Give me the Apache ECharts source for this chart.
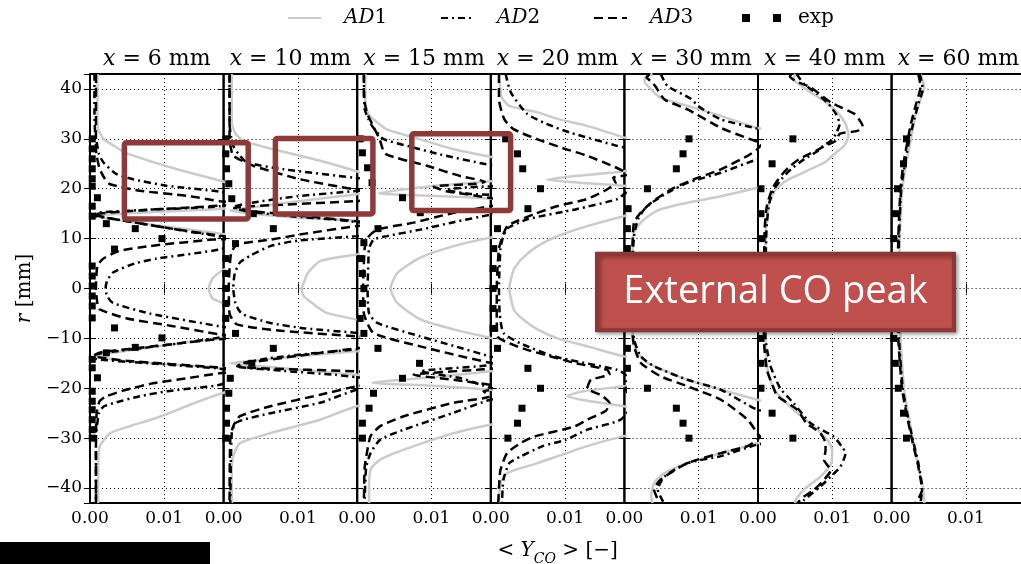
<!DOCTYPE html>
<html>
<head>
<meta charset="utf-8">
<script src="https://cdn.jsdelivr.net/npm/echarts/dist/echarts.min.js"></script>
<style>html,body{margin:0;padding:0;background:#fff;}#chart{width:1021px;height:564px;}</style>
</head>
<body>
<div id="chart"></div>
<script>
// Panel labels (x position in mm)
const panelTitles = ['6', '10', '15', '20', '30', '40', '60'];
const xTickLabels = ['0.00', '0.01'];
const yTicks = [-40, -30, -20, -10, 0, 10, 20, 30, 40];

// Each series: [ <Y_CO>, r (mm) ]
const p1_ad1 = [[0.0010,43],[0.0010,35],[0.0011,32],[0.0018,30],[0.0028,29],[0.0048,27.2],[0.0115,24],[0.0178,21.5],[0.0210,20],[0.0210,17],[0.0178,16],[0.0080,15.3],[0.0006,14.5],[0.0050,13.5],[0.0100,12.5],[0.0175,11],[0.0210,10],[0.0210,5],[0.0180,3.8],[0.0165,2],[0.0160,0],[0.0165,-2],[0.0180,-3],[0.0210,-5],[0.0210,-9.5],[0.0180,-10],[0.0120,-11],[0.0040,-12.7],[0.0008,-13.5],[0.0050,-14.6],[0.0120,-15.3],[0.0180,-16.1],[0.0210,-17],[0.0210,-20],[0.0180,-20.9],[0.0140,-23],[0.0094,-25.7],[0.0045,-28],[0.0027,-29],[0.0013,-31.7],[0.0011,-36],[0.0011,-43]];
const p1_ad2 = [[0.0006,43],[0.0006,35],[0.0007,31],[0.0009,29.3],[0.0012,27],[0.0018,25.3],[0.0035,23],[0.0058,21.9],[0.0103,20.6],[0.0175,19.4],[0.0210,18],[0.0175,16.5],[0.0080,15.8],[0.0010,15.2],[0.0005,14.6],[0.0030,14],[0.0090,12.5],[0.0150,11],[0.0180,10.3],[0.0210,9.5],[0.0174,7.8],[0.0090,6],[0.0060,5],[0.0031,3.2],[0.0023,1.5],[0.0021,0],[0.0023,-1.5],[0.0031,-2.9],[0.0080,-5],[0.0175,-7.6],[0.0210,-8.5],[0.0180,-9.7],[0.0120,-11],[0.0040,-12.5],[0.0008,-13.2],[0.0006,-14],[0.0080,-15],[0.0170,-16],[0.0210,-17],[0.0175,-19.3],[0.0139,-20],[0.0104,-20.6],[0.0067,-21.6],[0.0031,-23],[0.0018,-23.7],[0.0012,-25],[0.0008,-30],[0.0008,-43]];
const p1_ad3 = [[0.0008,43],[0.0008,30],[0.0008,28],[0.0009,26.6],[0.0013,24],[0.0020,22],[0.0027,20.9],[0.0067,19.6],[0.0130,18.6],[0.0175,17.5],[0.0210,17],[0.0175,16.6],[0.0050,15.5],[0.0005,14.8],[0.0030,14],[0.0110,12],[0.0180,10.5],[0.0210,10],[0.0165,9.8],[0.0080,8.5],[0.0039,7.5],[0.0018,6],[0.0010,4.5],[0.0008,0],[0.0010,-3],[0.0013,-4.2],[0.0050,-6],[0.0110,-7.5],[0.0175,-9.2],[0.0210,-9.7],[0.0170,-10.2],[0.0090,-11.5],[0.0015,-12.8],[0.0005,-13.5],[0.0050,-14.5],[0.0170,-15.8],[0.0210,-16.5],[0.0175,-17],[0.0130,-18],[0.0085,-19],[0.0049,-20.3],[0.0022,-21.6],[0.0013,-22.6],[0.0009,-25],[0.0008,-30],[0.0008,-43]];
const p1_exp = [[0.0003,30],[0.0003,28],[0.0003,26],[0.0003,24],[0.0003,22],[0.0003,20.5],[0.0010,18.2],[0.0003,16.5],[0.0003,14.5],[0.0022,13],[0.0061,12],[0.0097,10],[0.0033,7.9],[0.0003,4.5],[0.0003,2.5],[0.0003,0.5],[0.0003,-1.5],[0.0003,-3.5],[0.0003,-5.9],[0.0033,-7.9],[0.0097,-9.9],[0.0061,-11.8],[0.0022,-12.9],[0.0003,-14.2],[0.0003,-15.9],[0.0010,-17.9],[0.0003,-20.6],[0.0003,-22.6],[0.0003,-24.3],[0.0003,-26.3],[0.0003,-28.3],[0.0003,-30]];

const p2_ad1 = [[0.0011,43],[0.0011,33],[0.0012,32.6],[0.0016,31],[0.0027,29.6],[0.0067,27.9],[0.0130,25.6],[0.0179,23.5],[0.0210,22],[0.0210,20],[0.0179,18.9],[0.0100,17.5],[0.0040,16.3],[0.0009,15.6],[0.0040,15],[0.0100,14.2],[0.0179,13.5],[0.0210,12.5],[0.0210,7.5],[0.0179,6.8],[0.0130,5.5],[0.0113,3],[0.0108,1.1],[0.0105,0],[0.0108,-1.5],[0.0120,-3],[0.0139,-4.9],[0.0179,-6.2],[0.0210,-7],[0.0210,-12],[0.0179,-12.6],[0.0100,-13.6],[0.0040,-14.5],[0.0009,-15],[0.0050,-15.6],[0.0120,-16.5],[0.0179,-17.3],[0.0210,-18],[0.0210,-23],[0.0179,-23.6],[0.0130,-26.3],[0.0063,-29],[0.0022,-31],[0.0013,-33.6],[0.0011,-37],[0.0011,-43]];
const p2_ad2 = [[0.0008,43],[0.0008,33],[0.0010,30.5],[0.0013,28.6],[0.0020,27],[0.0031,25.3],[0.0081,23.9],[0.0175,22.2],[0.0210,21.5],[0.0210,20],[0.0175,19.5],[0.0100,18.5],[0.0030,17],[0.0012,16.3],[0.0030,15.5],[0.0090,14.5],[0.0150,13.8],[0.0185,13.2],[0.0210,12.5],[0.0210,11],[0.0179,10.5],[0.0100,9.6],[0.0063,8.5],[0.0035,6.5],[0.0022,5.2],[0.0015,3],[0.0013,0],[0.0016,-3],[0.0020,-4.2],[0.0026,-5.2],[0.0063,-6.9],[0.0110,-8],[0.0179,-8.9],[0.0210,-9.5],[0.0210,-11.5],[0.0179,-12.2],[0.0120,-13],[0.0060,-14],[0.0025,-15],[0.0018,-15.6],[0.0080,-16.5],[0.0150,-17.3],[0.0180,-17.8],[0.0210,-18.5],[0.0210,-19.8],[0.0179,-20.3],[0.0130,-22.9],[0.0063,-25],[0.0027,-26.3],[0.0016,-27],[0.0011,-29],[0.0009,-43]];
const p2_ad3 = [[0.0008,43],[0.0008,30],[0.0010,28],[0.0013,26.6],[0.0040,24.6],[0.0103,21.9],[0.0175,19.9],[0.0210,19],[0.0210,18],[0.0175,17.5],[0.0080,16.8],[0.0015,16.2],[0.0040,15.5],[0.0110,14.5],[0.0179,13.5],[0.0210,13],[0.0179,12.5],[0.0110,11],[0.0063,9.8],[0.0018,8.8],[0.0010,7],[0.0007,0],[0.0008,-5],[0.0018,-7.2],[0.0080,-8.5],[0.0179,-9.6],[0.0210,-10],[0.0210,-11.5],[0.0179,-12],[0.0100,-13.5],[0.0030,-15],[0.0018,-15.6],[0.0050,-16],[0.0179,-16.6],[0.0210,-17],[0.0210,-19],[0.0179,-19.6],[0.0130,-21.3],[0.0063,-23.6],[0.0022,-25.6],[0.0013,-27.6],[0.0009,-30],[0.0008,-43]];
const p2_exp = [[0.0003,30],[0.0003,27],[0.0004,24],[0.0007,21],[0.0011,18],[0.0040,15],[0.0067,12],[0.0016,9],[0.0003,6],[0.0003,3],[0.0003,0],[0.0003,-3],[0.0003,-6],[0.0016,-9],[0.0067,-12],[0.0038,-15],[0.0009,-18],[0.0007,-21],[0.0004,-24],[0.0004,-27],[0.0003,-30]];

const p3_ad1 = [[0.0011,43],[0.0011,37],[0.0015,35],[0.0022,33.9],[0.0040,31.9],[0.0085,29.9],[0.0130,27.9],[0.0179,26.4],[0.0210,25],[0.0210,22.5],[0.0179,21.5],[0.0100,20.5],[0.0029,19.1],[0.0100,18.6],[0.0179,18],[0.0210,17],[0.0210,11],[0.0179,10.2],[0.0130,8.5],[0.0085,6.2],[0.0054,3.1],[0.0045,0],[0.0054,-2.9],[0.0085,-6.2],[0.0130,-8.2],[0.0179,-9.9],[0.0210,-11],[0.0210,-15.5],[0.0179,-16.6],[0.0100,-17.8],[0.0020,-18.9],[0.0100,-19.5],[0.0179,-20.3],[0.0210,-21],[0.0210,-26.5],[0.0179,-27.3],[0.0130,-29],[0.0063,-32.3],[0.0031,-34.3],[0.0018,-36.3],[0.0016,-40],[0.0016,-43]];
const p3_ad2 = [[0.0009,43],[0.0010,36],[0.0015,34],[0.0020,32.6],[0.0035,30],[0.0070,28.5],[0.0111,26.9],[0.0174,24.9],[0.0210,24],[0.0210,21],[0.0150,20.3],[0.0120,19.8],[0.0150,19],[0.0210,18.3],[0.0210,16],[0.0179,14.8],[0.0130,13.3],[0.0085,11.8],[0.0040,10.5],[0.0022,9.8],[0.0016,8],[0.0015,5],[0.0014,0],[0.0016,-5],[0.0027,-6.9],[0.0085,-9.6],[0.0130,-11.5],[0.0179,-13.6],[0.0210,-14.5],[0.0170,-15.5],[0.0085,-16.6],[0.0140,-18],[0.0179,-19.9],[0.0210,-20.5],[0.0210,-21.5],[0.0179,-22.3],[0.0130,-24.9],[0.0063,-28.3],[0.0031,-30.3],[0.0018,-33],[0.0012,-36],[0.0010,-43]];
const p3_ad3 = [[0.0009,43],[0.0009,38.6],[0.0013,35.3],[0.0020,33],[0.0030,30],[0.0038,27],[0.0094,24.6],[0.0140,22.5],[0.0172,21.4],[0.0160,21],[0.0103,20.4],[0.0120,19.5],[0.0160,18.6],[0.0185,18],[0.0210,17.3],[0.0179,16.5],[0.0125,15],[0.0076,13.2],[0.0027,11.8],[0.0013,10],[0.0010,8],[0.0008,0],[0.0009,-5],[0.0022,-8.9],[0.0085,-11.6],[0.0179,-14.9],[0.0210,-15.5],[0.0170,-16.2],[0.0076,-17.3],[0.0130,-18.3],[0.0179,-19.3],[0.0210,-20],[0.0170,-20.6],[0.0179,-21.6],[0.0130,-22.9],[0.0063,-25.6],[0.0031,-27.6],[0.0018,-29.6],[0.0013,-33],[0.0010,-36],[0.0009,-43]];
const p3_exp = [[0.0004,30],[0.0007,27.2],[0.0014,24.2],[0.0020,21.2],[0.0061,18.2],[0.0085,15.2],[0.0028,12],[0.0009,9.2],[0.0004,6],[0.0007,3],[0.0009,0],[0.0007,-3],[0.0004,-6],[0.0009,-9],[0.0028,-12],[0.0084,-15],[0.0061,-18],[0.0022,-21],[0.0016,-24],[0.0007,-27],[0.0007,-30]];

const p4_ad1 = [[0.0011,43],[0.0013,40],[0.0015,38.2],[0.0025,36.6],[0.0063,35.3],[0.0090,34],[0.0130,32.6],[0.0179,30.3],[0.0210,29],[0.0210,25],[0.0179,23.5],[0.0110,22.5],[0.0076,21.8],[0.0120,21.2],[0.0179,20.6],[0.0210,20],[0.0210,15.5],[0.0179,14.5],[0.0130,12.5],[0.0090,10.5],[0.0063,8.5],[0.0042,6],[0.0031,3.8],[0.0025,0],[0.0031,-4.2],[0.0042,-6],[0.0063,-8.2],[0.0090,-10],[0.0130,-11.6],[0.0179,-13.6],[0.0210,-14.5],[0.0210,-18.8],[0.0179,-19.6],[0.0125,-20.6],[0.0103,-21.6],[0.0130,-22.5],[0.0179,-23.6],[0.0210,-24.5],[0.0210,-28.8],[0.0179,-29.6],[0.0130,-31.6],[0.0063,-35],[0.0022,-37],[0.0013,-39],[0.0011,-43]];
const p4_ad2 = [[0.0020,43],[0.0027,39.3],[0.0049,35],[0.0075,33],[0.0108,31.2],[0.0170,28.6],[0.0195,27.5],[0.0210,24],[0.0210,20.5],[0.0185,19.5],[0.0170,17.9],[0.0115,15.9],[0.0050,13.9],[0.0022,12],[0.0016,10],[0.0013,8],[0.0011,0],[0.0012,-5],[0.0017,-8.9],[0.0040,-11],[0.0085,-13.6],[0.0170,-16.3],[0.0182,-17.5],[0.0182,-20],[0.0190,-23],[0.0175,-26.3],[0.0130,-28.3],[0.0100,-30.4],[0.0070,-31.6],[0.0040,-33.7],[0.0025,-35],[0.0017,-38.4],[0.0015,-43]];
const p4_ad3 = [[0.0011,43],[0.0011,38],[0.0018,34],[0.0030,32],[0.0063,29.9],[0.0100,28],[0.0130,26.6],[0.0165,24.5],[0.0179,23.5],[0.0185,22.8],[0.0165,22.2],[0.0168,21.2],[0.0157,19.9],[0.0129,17.9],[0.0089,16.5],[0.0060,15],[0.0035,13.5],[0.0022,12.5],[0.0016,10.5],[0.0011,8],[0.0008,0],[0.0008,-5],[0.0009,-9.6],[0.0025,-11],[0.0049,-12.3],[0.0090,-14],[0.0112,-14.9],[0.0157,-16.3],[0.0160,-17.2],[0.0135,-18.3],[0.0130,-20],[0.0150,-21.5],[0.0160,-23],[0.0155,-24.5],[0.0130,-26.3],[0.0112,-27.7],[0.0058,-29.7],[0.0040,-31],[0.0022,-33],[0.0013,-36.4],[0.0011,-40],[0.0010,-43]];
const p4_exp = [[0.0020,30],[0.0036,27],[0.0043,24],[0.0067,20],[0.0050,16],[0.0009,12],[0.0004,8],[0.0003,4],[0.0003,0],[0.0003,-4],[0.0003,-8],[0.0009,-12],[0.0050,-16],[0.0067,-20],[0.0042,-24],[0.0036,-27],[0.0023,-30]];

const p5_ad1 = [[0.0038,43],[0.0028,42.3],[0.0027,41.6],[0.0036,39.9],[0.0048,38.3],[0.0085,36.6],[0.0130,34.6],[0.0176,32.3],[0.0210,31],[0.0210,21.5],[0.0179,20.2],[0.0130,18.5],[0.0085,17.2],[0.0049,15.9],[0.0032,14.5],[0.0022,13.2],[0.0013,11.2],[0.0011,7.8],[0.0010,0],[0.0011,-8.9],[0.0013,-11],[0.0018,-12.9],[0.0031,-14.9],[0.0055,-16.5],[0.0085,-18.3],[0.0130,-20.3],[0.0179,-22.3],[0.0210,-23.5],[0.0210,-29.8],[0.0179,-31],[0.0130,-33],[0.0085,-35],[0.0054,-37],[0.0040,-39],[0.0036,-41.7],[0.0038,-43]];
const p5_ad2 = [[0.0049,43],[0.0058,40.6],[0.0090,38],[0.0099,36.6],[0.0130,33.9],[0.0175,32.2],[0.0210,31],[0.0210,27],[0.0179,25.9],[0.0130,23.2],[0.0085,21.2],[0.0058,19.2],[0.0040,17.5],[0.0027,15.9],[0.0018,13.8],[0.0013,10.5],[0.0011,5],[0.0011,0],[0.0011,-5],[0.0013,-10.2],[0.0022,-13.6],[0.0040,-15.6],[0.0085,-18.3],[0.0130,-20.3],[0.0179,-24.3],[0.0210,-25],[0.0210,-30.5],[0.0179,-31.3],[0.0130,-33.6],[0.0085,-35],[0.0054,-37.7],[0.0045,-40.3],[0.0052,-42.7],[0.0054,-43]];
const p5_ad3 = [[0.0034,43],[0.0030,42.3],[0.0036,41.5],[0.0042,40.5],[0.0054,37.9],[0.0085,35.9],[0.0130,32.2],[0.0170,29.9],[0.0185,29],[0.0179,27.9],[0.0166,26.6],[0.0130,23.9],[0.0094,21.9],[0.0063,19.9],[0.0036,17.2],[0.0022,15.2],[0.0013,13.2],[0.0011,9.2],[0.0010,0],[0.0011,-9],[0.0013,-11.6],[0.0022,-14.9],[0.0049,-17.6],[0.0085,-19.6],[0.0130,-22.3],[0.0166,-26.3],[0.0179,-29],[0.0183,-29.7],[0.0179,-30.3],[0.0166,-31.6],[0.0130,-33],[0.0085,-35],[0.0049,-38.3],[0.0040,-40.3],[0.0045,-42.3],[0.0048,-43]];
const p5_exp = [[0.0087,30],[0.0079,27],[0.0070,24],[0.0031,20],[0.0005,16],[0.0004,12],[0.0004,8],[0.0004,4],[0.0004,0],[0.0004,-4],[0.0004,-8],[0.0004,-12],[0.0004,-16],[0.0031,-20],[0.0070,-24],[0.0079,-27],[0.0087,-30]];

const p6_ad1 = [[0.0050,43],[0.0048,42],[0.0064,40],[0.0090,37.5],[0.0107,35.3],[0.0118,33],[0.0122,30.6],[0.0116,28.6],[0.0103,27],[0.0090,25.3],[0.0062,23.3],[0.0038,21.6],[0.0024,19.9],[0.0015,17.2],[0.0012,13.8],[0.0010,10.5],[0.0010,0],[0.0010,-9.6],[0.0013,-16.3],[0.0022,-20.3],[0.0048,-24.3],[0.0075,-27.6],[0.0093,-30.3],[0.0100,-32.3],[0.0099,-35],[0.0084,-37.7],[0.0062,-40.3],[0.0051,-42.3],[0.0050,-43]];
const p6_ad2 = [[0.0052,43],[0.0062,41],[0.0080,39],[0.0095,37],[0.0105,35],[0.0110,33],[0.0105,31],[0.0098,29.6],[0.0088,28.6],[0.0080,27.5],[0.0063,26],[0.0045,24],[0.0032,22],[0.0022,20],[0.0015,17],[0.0012,13],[0.0011,10],[0.0010,0],[0.0010,-9.6],[0.0017,-15.6],[0.0030,-20],[0.0048,-23],[0.0071,-27],[0.0102,-29.7],[0.0113,-31.7],[0.0118,-33],[0.0111,-35.7],[0.0098,-37.7],[0.0084,-39.7],[0.0062,-42.4],[0.0058,-43]];
const p6_ad3 = [[0.0045,43],[0.0043,42.5],[0.0052,41.5],[0.0071,40.3],[0.0098,37.3],[0.0130,35],[0.0138,33.5],[0.0141,32.5],[0.0134,31.6],[0.0110,31],[0.0105,29.6],[0.0090,28.6],[0.0078,27.6],[0.0055,25.9],[0.0043,24.5],[0.0035,23.3],[0.0024,21.2],[0.0019,19.9],[0.0012,16.6],[0.0009,12],[0.0008,0],[0.0008,-10],[0.0012,-16.3],[0.0022,-20.3],[0.0026,-21.6],[0.0053,-24.3],[0.0065,-27],[0.0075,-28],[0.0084,-29],[0.0091,-31],[0.0091,-32.4],[0.0089,-34.4],[0.0098,-36.4],[0.0085,-39],[0.0075,-40.4],[0.0062,-41.7],[0.0053,-43]];
const p6_exp = [[0.0047,30],[0.0019,25],[0.0004,20],[0.0004,15],[0.0004,10],[0.0004,5],[0.0004,0],[0.0004,-5],[0.0004,-10],[0.0004,-15],[0.0004,-20],[0.0019,-25],[0.0047,-30]];

const p7_ad1 = [[0.0039,43],[0.0044,40.3],[0.0041,38.7],[0.0032,34.6],[0.0026,29.9],[0.0019,24.6],[0.0014,19.2],[0.0011,10],[0.0010,0],[0.0012,-9.6],[0.0014,-14.9],[0.0017,-20.3],[0.0023,-25.7],[0.0030,-31],[0.0037,-36.4],[0.0042,-39.7],[0.0044,-43]];
const p7_ad2 = [[0.0038,43],[0.0042,40],[0.0036,37],[0.0029,33],[0.0024,30],[0.0018,25],[0.0013,20],[0.0010,10],[0.0009,0],[0.0010,-10],[0.0015,-20],[0.0021,-25],[0.0028,-30],[0.0036,-35],[0.0041,-40],[0.0039,-43]];
const p7_ad3 = [[0.0036,43],[0.0039,40.5],[0.0033,37],[0.0026,33],[0.0022,30],[0.0016,25],[0.0012,20],[0.0009,10],[0.0008,0],[0.0009,-10],[0.0014,-20],[0.0020,-25],[0.0027,-30],[0.0035,-35],[0.0040,-39],[0.0041,-40.4],[0.0035,-42.4],[0.0032,-43]];
const p7_exp = [[0.0020,30],[0.0016,25],[0.0008,20],[0.0005,15],[0.0003,10],[0.0003,5],[0.0003,0],[0.0003,-5],[0.0003,-10],[0.0005,-15],[0.0009,-20],[0.0016,-25],[0.0020,-30]];

const AD1 = [p1_ad1, p2_ad1, p3_ad1, p4_ad1, p5_ad1, p6_ad1, p7_ad1];
const AD2 = [p1_ad2, p2_ad2, p3_ad2, p4_ad2, p5_ad2, p6_ad2, p7_ad2];
const AD3 = [p1_ad3, p2_ad3, p3_ad3, p4_ad3, p5_ad3, p6_ad3, p7_ad3];
const EXP = [p1_exp, p2_exp, p3_exp, p4_exp, p5_exp, p6_exp, p7_exp];

// ---- layout / style ----
const L0 = 90, PW = 133.6, TOP = 74, H = 429;
const SERIF = 'DejaVu Serif';
const richBase = {
  i: {fontFamily: SERIF, fontStyle: 'italic', fontSize: 20, color: '#000'},
  n: {fontFamily: SERIF, fontSize: 20, color: '#000'},
  g: {width: 18}
};

const grids = [], xAxes = [], yAxes = [], series = [];
for (let i = 0; i < 7; i++) {
  grids.push({left: L0 + i * PW, top: TOP, width: PW, height: H, show: true,
    containLabel: false, outerBoundsMode: 'none',
    borderColor: '#000', borderWidth: 2, backgroundColor: 'transparent'});
}
const dotted = {color: '#000', width: 1, type: [1, 3]};
for (let i = 0; i < 7; i++) {
  xAxes.push({
    gridIndex: i, type: 'value', position: 'bottom', min: 0, max: 0.018, interval: 0.01,
    axisLine: {show: false},
    axisTick: {show: true, inside: true, length: 5, lineStyle: {color: '#000'}},
    axisLabel: {show: true, showMaxLabel: false, margin: 7, fontFamily: SERIF, fontSize: 17, color: '#000',
      formatter: v => xTickLabels[Math.round(v / 0.01)] || ''},
    splitLine: {show: true, lineStyle: dotted}
  });
}
for (let i = 0; i < 7; i++) {
  xAxes.push({
    gridIndex: i, type: 'value', position: 'top', min: 0, max: 0.018, interval: 0.01,
    axisLine: {show: false},
    axisTick: {show: true, inside: true, length: 5, lineStyle: {color: '#000'}},
    axisLabel: {show: false}, splitLine: {show: false},
    name: '{i|x}{n| = ' + panelTitles[i] + ' mm}', nameLocation: 'middle', nameGap: 4,
    nameTextStyle: {rich: {
      i: {fontFamily: SERIF, fontStyle: 'italic', fontSize: 22, color: '#000'},
      n: {fontFamily: SERIF, fontSize: 22, color: '#000'}
    }}
  });
}
// axis carrying only the common x title, centred under the middle panel
xAxes.push({
  gridIndex: 3, type: 'value', position: 'bottom', min: 0, max: 0.018,
  axisLine: {show: false}, axisTick: {show: false}, axisLabel: {show: false}, splitLine: {show: false},
  name: '{n|< }{i|Y}{s|CO}{n| > [\u2212]}', nameLocation: 'middle', nameGap: 33,
  nameTextStyle: {rich: {
    n: {fontFamily: SERIF, fontSize: 20, color: '#000', lineHeight: 30, verticalAlign: 'middle'},
    i: {fontFamily: SERIF, fontStyle: 'italic', fontSize: 20, color: '#000', lineHeight: 30, verticalAlign: 'middle'},
    s: {fontFamily: SERIF, fontStyle: 'italic', fontSize: 14, color: '#000', lineHeight: 30, verticalAlign: 'bottom'}
  }}
});
for (let i = 0; i < 7; i++) {
  const yl = {
    gridIndex: i, type: 'value', position: 'left', min: -43, max: 43, splitNumber: 8,
    axisLine: {show: false},
    axisTick: {show: true, inside: true, length: 6, lineStyle: {color: '#000'}},
    axisLabel: {show: i === 0, showMinLabel: false, showMaxLabel: false, margin: 8,
      fontFamily: SERIF, fontSize: 17, color: '#000',
      formatter: v => (yTicks.indexOf(v) < 0 ? '' : (v < 0 ? '\u2212' + (-v) : String(v)))},
    splitLine: {show: true, lineStyle: dotted}
  };
  if (i === 0) {
    yl.name = '{i|r}{n| [mm]}';
    yl.nameLocation = 'middle';
    yl.nameGap = 55;
    yl.nameRotate = 90;
    yl.nameTextStyle = {rich: richBase};
  }
  yAxes.push(yl);
}
for (let i = 0; i < 7; i++) {
  yAxes.push({
    gridIndex: i, type: 'value', position: 'right', min: -43, max: 43, splitNumber: 8,
    axisLine: {show: false},
    axisTick: {show: true, inside: true, length: 6, lineStyle: {color: '#000'}},
    axisLabel: {show: false}, splitLine: {show: false}
  });
}

const GRAY = '#cbcbcb';
for (let i = 0; i < 7; i++) {
  series.push({type: 'line', name: 'AD1', xAxisIndex: i, yAxisIndex: i, data: AD1[i], symbol: 'none',
    smooth: 0.2, clip: true, lineStyle: {color: GRAY, width: 2.5}, itemStyle: {color: GRAY}, z: 2});
  series.push({type: 'line', name: 'AD2', xAxisIndex: i, yAxisIndex: i, data: AD2[i], symbol: 'none',
    smooth: 0.2, clip: true, lineStyle: {color: '#000', width: 2.5, type: [7, 4, 2, 4]}, itemStyle: {color: '#000'}, z: 3});
  series.push({type: 'line', name: 'AD3', xAxisIndex: i, yAxisIndex: i, data: AD3[i], symbol: 'none',
    smooth: 0.2, clip: true, lineStyle: {color: '#000', width: 2.5, type: [9, 5]}, itemStyle: {color: '#000'}, z: 3});
  series.push({type: 'scatter', name: 'exp', xAxisIndex: i, yAxisIndex: i, data: EXP[i], symbol: 'rect',
    symbolSize: 7, clip: true, itemStyle: {color: '#000', opacity: 1}, z: 4});
}

const legendBase = {orient: 'horizontal', padding: 0, top: 8, itemWidth: 33, itemHeight: 14,
  selectedMode: false, itemStyle: {opacity: 0, borderWidth: 0},
  textStyle: {fontFamily: SERIF, fontSize: 20, color: '#000', rich: richBase}};
const legends = [
  Object.assign({}, legendBase, {left: 287, data: ['AD1'], formatter: '{g| }{i|AD}{n|1}'}),
  Object.assign({}, legendBase, {left: 440, data: ['AD2'], formatter: '{g| }{i|AD}{n|2}'}),
  Object.assign({}, legendBase, {left: 593, data: ['AD3'], formatter: '{g| }{i|AD}{n|3}'}),
  Object.assign({}, legendBase, {left: 742, itemWidth: 39, itemHeight: 8, itemStyle: {opacity: 1, color: '#000'},
    data: [{name: 'exp', icon: 'path://M0,0H8V8H0Z M31,0H39V8H31Z'}],
    formatter: '{g| }{n|exp}',
    textStyle: {fontFamily: SERIF, fontSize: 20, color: '#000', rich: {g: {width: 12}, n: {fontFamily: SERIF, fontSize: 20, color: '#000'}}}})
];

const BOXC = '#8C3A3A';
const option = {
  animation: false,
  backgroundColor: '#fff',
  grid: grids, xAxis: xAxes, yAxis: yAxes, series: series, legend: legends,
  graphic: [
    {type: 'rect', z: 100, shape: {x: 124.4, y: 142.8, width: 123.8, height: 76.2, r: 2}, style: {fill: 'none', stroke: BOXC, lineWidth: 5.5}},
    {type: 'rect', z: 100, shape: {x: 275.4, y: 138.4, width: 97.5, height: 75.5, r: 2}, style: {fill: 'none', stroke: BOXC, lineWidth: 5.5}},
    {type: 'rect', z: 100, shape: {x: 411.8, y: 133.8, width: 98.8, height: 76.8, r: 2}, style: {fill: 'none', stroke: BOXC, lineWidth: 5.5}},
    {type: 'rect', z: 100, shape: {x: 597, y: 253.7, width: 357, height: 76.6},
      style: {fill: '#C0504D', stroke: '#8C3836', lineWidth: 4, shadowBlur: 4, shadowOffsetX: 2, shadowOffsetY: 2, shadowColor: 'rgba(0,0,0,0.35)'}},
    {type: 'text', z: 101, style: {text: 'External CO peak', x: 775.5, y: 292, align: 'center', verticalAlign: 'middle',
      fill: '#fff', fontFamily: 'Open Sans', fontSize: 38}},
    {type: 'rect', z: 100, shape: {x: 0, y: 542, width: 210, height: 22}, style: {fill: '#000'}}
  ]
};
const chart = echarts.init(document.getElementById('chart'), null, {renderer: 'canvas'});
chart.setOption(option);
</script>
</body>
</html>
